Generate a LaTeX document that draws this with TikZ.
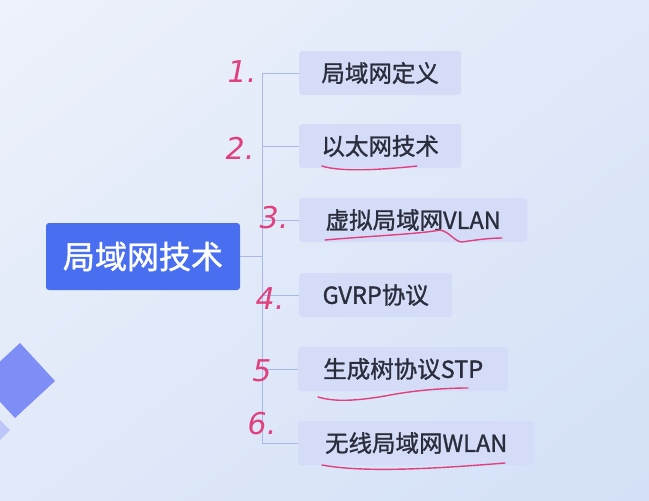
\documentclass[tikz,border=0pt]{standalone}
\usepackage{fontspec}
\usetikzlibrary{shadings}
\newfontfamily\cjk[FakeBold=1.2]{Noto Sans CJK SC}
\newfontfamily\hand{DejaVu Sans}
\definecolor{rootblue}{HTML}{4A6EF0}
\definecolor{childfill}{HTML}{D5DCF8}
\definecolor{childtext}{HTML}{2A2E3C}
\definecolor{linec}{HTML}{A9B8EA}
\definecolor{pen}{HTML}{E0407E}
\definecolor{bgA}{HTML}{EEF2FB}
\definecolor{bgB}{HTML}{D3E0F7}
\definecolor{bgC}{HTML}{E0E9F9}
\definecolor{diam}{HTML}{7F8DF6}
\definecolor{diamlight}{HTML}{BCC6F8}
\tikzset{
  rootbox/.style={fill=rootblue, rounded corners=3pt, text=white, font=\cjk\fontsize{32}{36}\selectfont, minimum width=194pt, minimum height=67pt, inner sep=0pt},
  childbox/.style={fill=childfill, rounded corners=3pt, text=childtext, font=\cjk\fontsize{23.5}{26}\selectfont, minimum height=44pt, inner sep=0pt, anchor=west},
  conn/.style={draw=linec, line width=0.8pt},
  num/.style={text=pen, font=\hand\itshape\fontsize{30}{32}\selectfont, inner sep=0pt},
  ink/.style={draw=pen, line width=1.4pt, line cap=round}
}
\begin{document}
\begin{tikzpicture}[x=1pt,y=-1pt]
\useasboundingbox (0,0) rectangle (649,501);
\shade[upper left=bgA, lower right=bgB, upper right=bgC, lower left=bgC] (0,0) rectangle (649,501);
% decorative diamonds
\fill[diamlight] (-25,395) -- (10,430) -- (-25,465) -- (-60,430) -- cycle;
\fill[diam] (20,343) -- (55,381) -- (15,418) -- (-20,380) -- cycle;

\node[rootbox] (root) at (143,256.5) {局域网技术};

\node[childbox, minimum width=162pt] (c1) at (299,73) {局域网定义};
\node[childbox, minimum width=162pt] (c2) at (299,146) {以太网技术};
\node[childbox, minimum width=228pt] (c3) at (299,220) {虚拟局域网VLAN};
\node[childbox, minimum width=153pt] (c4) at (299,295) {GVRP协议};
\node[childbox, minimum width=210pt] (c5) at (298,369) {生成树协议STP};
\node[childbox, minimum width=236pt] (c6) at (298,443) {无线局域网WLAN};

\coordinate (jn) at (262,256.5);
\coordinate (vt) at (262,73);
\coordinate (vb) at (262,443);
\draw[conn] (root.east) -- (jn);
\draw[conn] (vt) -- (vb);
\foreach \c in {c1,c2,c3,c4,c5,c6} \draw[conn] (\c.west) -- (\c.west -| jn);

% handwritten numbers
\node[num] (n1) at (242,72) {1.};
\node[num] (n2) at (240,148) {2.};
\node[num] (n3) at (274,218) {3.};
\node[num] (n4) at (270,299) {4.};
\node[num] (n5) at (262,371) {5};
\node[num] (n6) at (262,424) {6.};

% handwritten underlines
\draw[ink] (322,166) .. controls (340,172) and (380,170) .. (417,166);
\draw[ink] (325,240) .. controls (370,236) and (420,234) .. (440,230) .. controls (450,232) and (455,242) .. (462,242) .. controls (475,240) and (490,238) .. (502,238);
\draw[ink] (318,397) .. controls (335,402) and (355,401) .. (385,396) .. controls (410,391) and (440,388) .. (468,388);
\draw[ink] (322,465) .. controls (360,472) and (420,470) .. (505,463);
\end{tikzpicture}
\end{document}
